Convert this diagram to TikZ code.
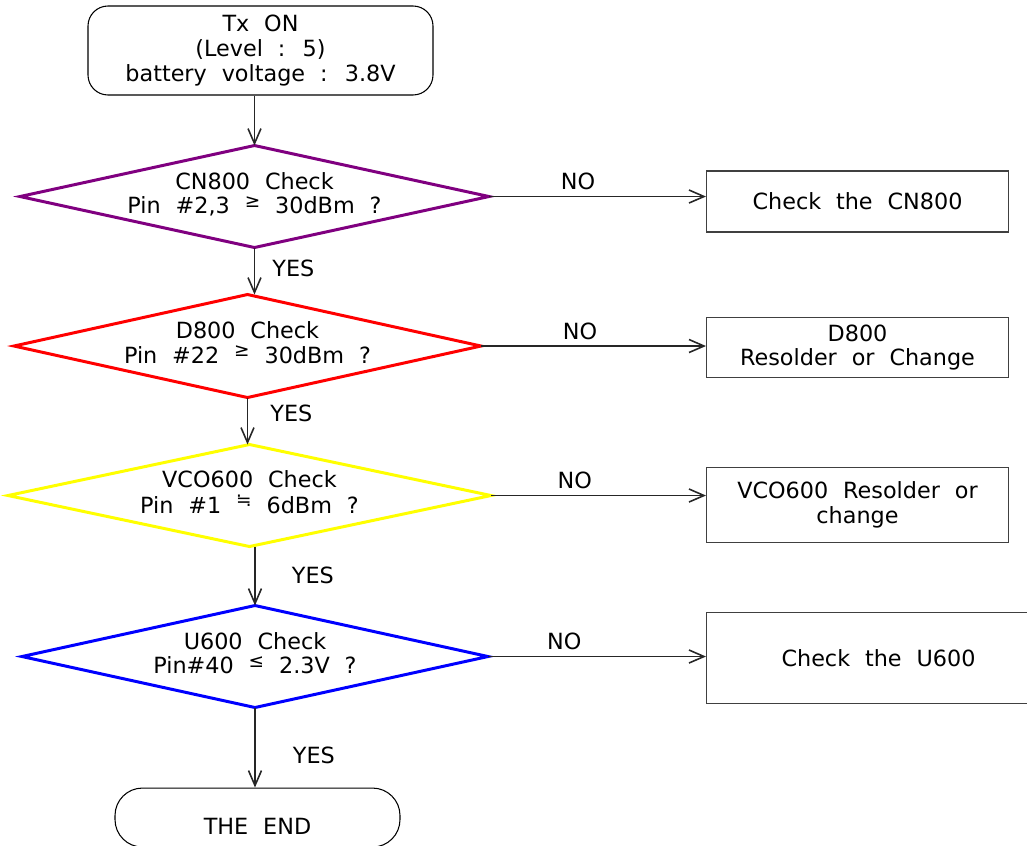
\documentclass[tikz,border=0pt]{standalone}
\usepackage{fontspec}
\setmainfont{DejaVu Sans}[WordSpace=2.1]
\usetikzlibrary{positioning, shapes.geometric, arrows.meta}

\definecolor{cnpurple}{RGB}{128,0,128}
\definecolor{vcoyellow}{RGB}{255,255,0}

\newcommand{\rel}[1]{\raisebox{0.55ex}{\fontsize{10.5}{10.5}\selectfont #1}}
\newcommand{\twolines}[2]{\makebox[0pt]{\begin{tabular}{@{}c@{}}#1\\#2\end{tabular}}}

\begin{document}
\begin{tikzpicture}[node distance=1cm, font=\fontsize{12.7}{14}\selectfont]

    % Define styles
    \tikzstyle{term} = [draw, rectangle, line width=0.6pt, align=center]
    \tikzstyle{dec} = [diamond, line width=1.7pt, inner sep=0pt, outer sep=0pt, minimum height=2.04cm]
    \tikzstyle{rec} = [draw=black!75, rectangle, line width=0.6pt, inner sep=1pt, minimum width=6.04cm, align=center]
    \tikzstyle{line} = [draw=black!85, line width=0.6pt, -{Straight Barb[length=0.3cm,width=0.26cm,line width=0.9pt]}]

    \useasboundingbox (0,0) rectangle (20.54,-16.92);

    % CHECK COLUMN
    \node (tx_on) [term, rounded corners=0.4cm, minimum width=6.9cm, minimum height=1.78cm] at (5.21,-1.01) {Tx ON\\(Level : 5)\\battery voltage : 3.8V};

    \node (cn800_check) [dec, draw=cnpurple, minimum width=9.38cm, below=1cm of tx_on, xshift=-0.12cm] {\twolines{CN800 Check}{Pin \#2,3 \rel{≥} 30dBm ?}};
    \node (d800_check) [dec, draw=red, minimum width=9.34cm, minimum height=2.06cm, below=0.94cm of cn800_check, xshift=-0.14cm] {\twolines{D800 Check}{Pin \#22 \rel{≥} 30dBm ?}};
    \node (vco600_check) [dec, draw=vcoyellow, minimum width=9.66cm, below=0.94cm of d800_check, xshift=0.04cm] {\twolines{VCO600 Check}{Pin \#1 \rel{≒} 6dBm ?}};
    \node (u600_check) [dec, draw=blue, minimum width=9.32cm, below=1.18cm of vco600_check, xshift=0.11cm] {\twolines{U600 Check}{Pin\#40 \rel{≤} 2.3V ?}};

    \node (the_end) [term, rounded corners=0.55cm, minimum width=5.7cm, minimum height=1.18cm, text height=0.68cm, text depth=0pt, below=1.6cm of u600_check, xshift=0.05cm] {THE END};

    % REPAIR BOXES
    \node (cn800_fix) [rec, minimum height=1.22cm, right=4.34cm of cn800_check, yshift=-0.1cm] {Check the CN800};
    \node (d800_fix) [rec, minimum height=1.2cm, right=4.5cm of d800_check, yshift=-0.03cm] {D800\\Resolder or Change};
    \node (vco600_fix) [rec, minimum height=1.5cm, right=4.3cm of vco600_check, yshift=-0.19cm] {VCO600 Resolder or\\change};
    \node (u600_fix) [rec, minimum width=6.88cm, minimum height=1.82cm, right=4.36cm of u600_check, yshift=-0.03cm] {Check the U600};

    % YES CONNECTIONS
    \draw[line] (tx_on.south -| cn800_check.north) -- (cn800_check.north);
    \draw[line] (cn800_check.south) -- (cn800_check.south |- d800_check.north) node[pos=0.44, right=0.23cm] (yes1) {YES};
    \draw[line] (d800_check.south) -- (d800_check.south |- vco600_check.north) node[pos=0.34, right=0.33cm] (yes2) {YES};
    \draw[line] (u600_check.north |- vco600_check.south) -- (u600_check.north) node[pos=0.49, right=0.61cm] (yes3) {YES};
    \draw[line] (u600_check.south) -- (u600_check.south |- the_end.north) node[pos=0.6, right=0.63cm] (yes4) {YES};

    % NO CONNECTIONS
    \draw[line] (cn800_check.east) -- (cn800_check.east -| cn800_fix.west) node[pos=0.41, above] (no1) {NO};
    \draw[line] (d800_check.east) -- (d800_check.east -| d800_fix.west) node[pos=0.44, above] (no2) {NO};
    \draw[line] (vco600_check.east) -- (vco600_check.east -| vco600_fix.west) node[pos=0.39, above] (no3) {NO};
    \draw[line] (u600_check.east) -- (u600_check.east -| u600_fix.west) node[pos=0.35, above] (no4) {NO};

\end{tikzpicture}
\end{document}
